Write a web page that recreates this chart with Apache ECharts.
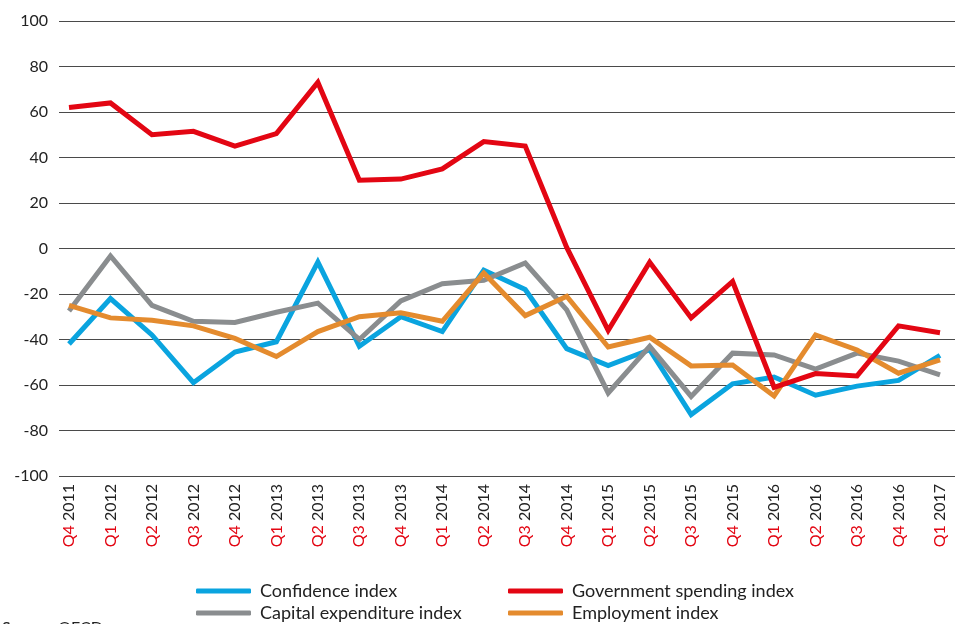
<!DOCTYPE html>
<html>
<head>
<meta charset="utf-8">
<title>Indices</title>
<script src="https://cdn.jsdelivr.net/npm/echarts@6/dist/echarts.min.js"></script>
<style>
  html, body { margin: 0; padding: 0; background: #fff; }
  #chart { width: 959px; height: 624px; }
</style>
</head>
<body>
<div id="chart"></div>
<script>
// 季度（x 轴）
const quarters = [
  'Q4 2011', 'Q1 2012', 'Q2 2012', 'Q3 2012', 'Q4 2012', 'Q1 2013', 'Q2 2013', 'Q3 2013',
  'Q4 2013', 'Q1 2014', 'Q2 2014', 'Q3 2014', 'Q4 2014', 'Q1 2015', 'Q2 2015', 'Q3 2015',
  'Q4 2015', 'Q1 2016', 'Q2 2016', 'Q3 2016', 'Q4 2016', 'Q1 2017'
]

// 各指数
const confidence = [-42, -22, -38, -59, -45.5, -41, -6, -43, -30, -36.5, -9.5, -18,
  -44, -51.5, -44.5, -73, -59.5, -56.5, -64.5, -60.5, -58, -47]
const government = [62, 64, 50, 51.5, 45, 50.5, 73, 30, 30.5, 35, 47, 45,
  0.5, -36, -6, -30.5, -14.5, -61, -55, -56, -34, -37]
const capex = [-27.5, -3.3, -25, -32, -32.5, -28, -24, -40, -23, -15.5, -14, -6.4,
  -27, -63.5, -43, -65, -46, -46.8, -53, -46, -49.5, -55.5]
const employment = [-25, -30.5, -31.5, -34, -39.5, -47.5, -36.5, -30, -28.3, -32, -10.8, -29.5,
  -21, -43.3, -39, -51.6, -51.2, -64.8, -38, -44.6, -54.8, -49]

const yTicks = [100, 80, 60, 40, 20, 0, -20, -40, -60, -80, -100]

const FONT = 'Lato'

/* 图例（单项，手动定位） */
function legendItem(name, left, top) {
  return {
    data: [name],
    left: left,
    top: top,
    itemWidth: 55,
    itemHeight: 5,
    itemGap: 0,
    icon: 'roundRect',
    selectedMode: false,
    textStyle: { fontFamily: FONT, fontSize: 18, color: '#222', padding: [0, 0, 0, 4] }
  }
}

function lineSeries(name, data, color) {
  return {
    name: name,
    type: 'line',
    xAxisIndex: 1,
    yAxisIndex: 1,
    data: data,
    symbol: 'none',
    lineStyle: { width: 5, color: color, join: 'miter' },
    itemStyle: { color: color },
    animation: false
  }
}

const chart = echarts.init(document.getElementById('chart'))
chart.setOption({
  animation: false,
  grid: [
    // 网格线与 y 轴刻度
    { left: 59, right: 4, top: 21, bottom: 148 },
    // 折线区域（首尾点留出边距）
    { left: 69, right: 19, top: 21, bottom: 148 }
  ],
  legend: [
    legendItem('Confidence index', 191, 577),
    legendItem('Government spending index', 503, 577),
    legendItem('Capital expenditure index', 191, 599),
    legendItem('Employment index', 503, 599)
  ],
  xAxis: [
    {
      gridIndex: 0,
      type: 'category',
      data: quarters,
      show: false
    },
    {
      gridIndex: 1,
      type: 'category',
      data: quarters,
      boundaryGap: false,
      axisLine: { show: false },
      axisTick: { show: false },
      axisLabel: {
        rotate: 90,
        margin: 8,
        interval: 0,
        fontFamily: FONT,
        fontSize: 16,
        formatter: v => {
          const p = v.split(' ')
          return '{q|' + p[0] + '} {y|' + p[1] + '}'
        },
        rich: {
          q: { color: '#e30613', fontFamily: FONT, fontSize: 16 },
          y: { color: '#222', fontFamily: FONT, fontSize: 16 }
        }
      }
    }
  ],
  yAxis: [
    {
      gridIndex: 0,
      type: 'value',
      min: -100,
      max: 100,
      interval: 20,
      axisLine: { show: false },
      axisTick: { show: false },
      axisLabel: {
        margin: 11,
        fontFamily: FONT,
        fontSize: 16,
        color: '#222',
        formatter: v => (yTicks.indexOf(v) >= 0 ? String(v) : '')
      },
      splitLine: { lineStyle: { color: '#4a4a4a', width: 1 } }
    },
    {
      gridIndex: 1,
      type: 'value',
      min: -100,
      max: 100,
      interval: 20,
      show: false,
      splitLine: { show: false }
    }
  ],
  series: [
    lineSeries('Confidence index', confidence, '#0aa4df'),
    lineSeries('Capital expenditure index', capex, '#8a8d8f'),
    lineSeries('Employment index', employment, '#e48b2e'),
    lineSeries('Government spending index', government, '#e30613')
  ],
  graphic: [
    {
      type: 'text',
      left: 2,
      top: 620,
      style: { text: 'Source: OECD', font: '16px Lato', fill: '#222' }
    }
  ]
})
</script>
</body>
</html>
